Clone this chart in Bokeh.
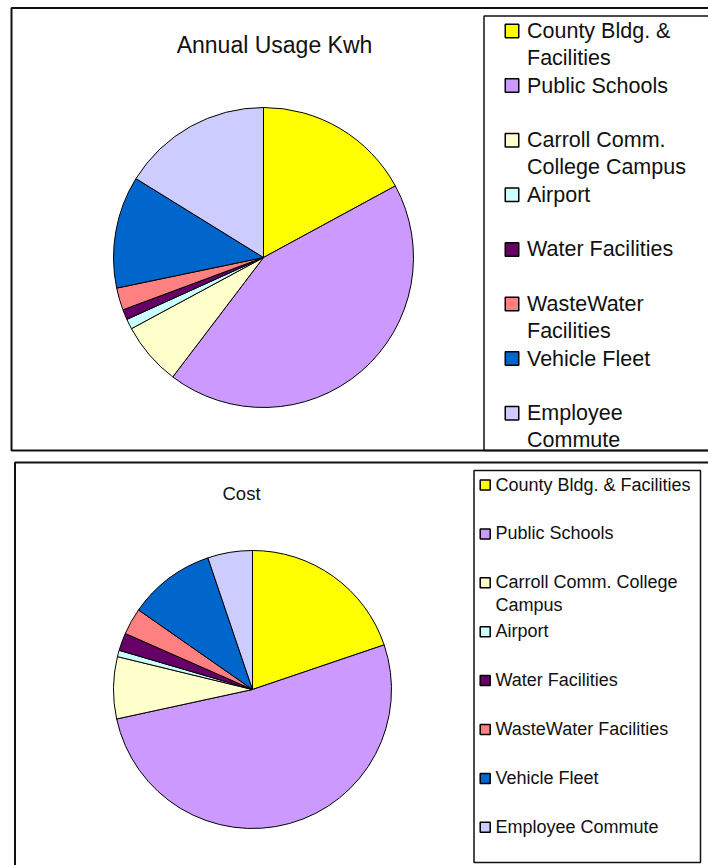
import numpy as np
from bokeh.plotting import figure
from bokeh.models import Range1d, ColumnDataSource
from bokeh.embed import file_html
from bokeh.resources import INLINE
from bokeh.core.properties import value

# ---------------- data ----------------
categories = ["County Bldg. & Facilities", "Public Schools", "Carroll Comm. College Campus",
              "Airport", "Water Facilities", "WasteWater Facilities", "Vehicle Fleet",
              "Employee Commute"]
kwh_share = [17.1, 43.3, 6.8, 1.1, 1.1, 2.4, 12.1, 16.2]      # Annual Usage Kwh (%)
cost_share = [19.8, 51.8, 7.2, 0.75, 2.05, 3.1, 10.1, 5.2]    # Cost (%)
colors = ["#FFFF00", "#CC99FF", "#FFFFCC", "#CCFFFF", "#660066", "#FF8080", "#0066CC", "#CCCCFF"]
kwh_labels = ["County Bldg. &\nFacilities", "Public Schools", "Carroll Comm.\nCollege Campus",
              "Airport", "Water Facilities", "WasteWater\nFacilities", "Vehicle Fleet",
              "Employee\nCommute"]
cost_labels = ["County Bldg. & Facilities", "Public Schools", "Carroll Comm. College\nCampus",
               "Airport", "Water Facilities", "WasteWater Facilities", "Vehicle Fleet",
               "Employee Commute"]
titles = ["Annual Usage Kwh", "Cost"]

FONT = value("Liberation Sans")
W, H = 708, 865


def Y(yp):
    return H - np.asarray(yp, dtype=float)


p = figure(width=W, height=H, x_range=Range1d(0, W), y_range=Range1d(0, H),
           output_backend="svg", toolbar_location=None, min_border=0,
           background_fill_color="white", border_fill_color="white")
p.axis.visible = False
p.grid.visible = False
p.outline_line_color = None


def frame(l, t, r, b, lw=2):
    p.quad(left=[l], right=[r], top=[Y(t)], bottom=[Y(b)], fill_color=None,
           line_color="#111111", line_width=lw)


def pie(vals, cx, cy, r):
    v = np.asarray(vals, dtype=float)
    frac = v / v.sum()
    cum = np.cumsum(frac)
    start = np.pi / 2 - 2 * np.pi * (cum - frac)
    end = np.pi / 2 - 2 * np.pi * cum
    src = ColumnDataSource(dict(start=start, end=end, color=colors, cat=categories))
    p.wedge(x=cx, y=float(Y(cy)), radius=r, start_angle="start", end_angle="end",
            direction="clock", fill_color="color", line_color="black", line_width=1,
            source=src)


def legend(labels, x_sq, y0, step, sq, x_txt, size, dy_txt, lh):
    n = len(labels)
    ys = y0 + step * np.arange(n)
    p.rect(x=[x_sq] * n, y=Y(ys), width=sq, height=sq, fill_color=colors,
           line_color="black", line_width=1.5)
    p.text(x=[x_txt] * n, y=Y(ys + dy_txt), text=labels, text_font=FONT,
           text_font_size=size, text_baseline="top", text_align="left",
           text_color="#111111", text_line_height=lh)


# ---- top chart ----
frame(11, 7.5, 730, 450)
frame(483.5, 15.5, 730, 450, lw=1.5)
p.text(x=[274], y=Y([44]), text=[titles[0]], text_font=FONT, text_font_size="23px",
       text_align="center", text_baseline="middle", text_color="#111111")
pie(kwh_share, 263, 257, 150)
legend(kwh_labels, 511.5, 30.5, 54.6, 13.5, 526.5, "21.5px", -12, 1.12)

# ---- bottom chart ----
frame(14.5, 462, 730, 890)
frame(473.5, 470, 700, 862, lw=1.5)
p.text(x=[241], y=Y([493]), text=[titles[1]], text_font=FONT, text_font_size="18.5px",
       text_align="center", text_baseline="middle", text_color="#111111")
pie(cost_share, 252, 689, 139)
legend(cost_labels, 484.7, 484.5, 48.9, 10, 495, "18px", -10.5, 1.15)

open("out.html", "w").write(file_html(p, INLINE))
